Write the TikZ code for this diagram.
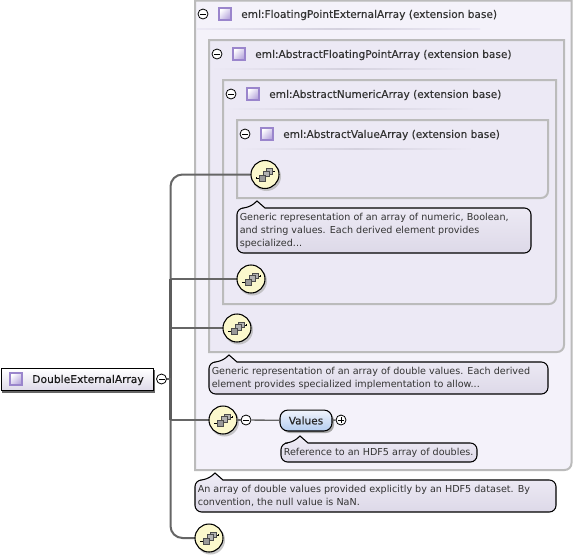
\documentclass[tikz,border=0pt]{standalone}
\usepackage{fontspec}
\setmainfont{DejaVu Sans}
\newfontfamily\headfont[FakeBold=0.2]{DejaVu Sans}
\usetikzlibrary{calc}
\definecolor{boxline}{HTML}{BBBBBB}
\definecolor{outerfill}{HTML}{F4F2FA}
\definecolor{innerfill}{HTML}{ECE9F5}
\definecolor{connline}{HTML}{666666}
\definecolor{txt}{HTML}{333333}
\definecolor{sep}{HTML}{D4D1DE}
\tikzset{
  x=0.75pt,y=-0.75pt,
  ctbox/.style={draw=boxline,line width=1.5pt,fill=#1},
  conn/.style={draw=connline,line width=1.5pt},
  notebody/.style={draw=black,line width=0.8pt,top color=notetop,bottom color=notebot},
  notetext/.style={anchor=north west,inner sep=0pt,align=left,text=txt,font=\fontsize{7.2pt}{9.75pt}\selectfont},
  headtext/.style={anchor=west,inner sep=0pt,text=black!80,font=\headfont\fontsize{7.92pt}{9.75pt}\selectfont},
  togglenode/.style={circle,draw=black,line width=0.6pt,fill=white,minimum size=7.5pt,inner sep=0pt},
  sqicon/.style={draw=iconline,line width=0.8pt,minimum size=9pt,inner sep=0pt,top color=white,bottom color=iconfill,shading angle=45},
  seqnode/.style={circle,draw=black,line width=0.8pt,fill=seqfill,minimum size=21pt,inner sep=0pt},
}
\definecolor{notetop}{HTML}{EFECF6}
\definecolor{notebot}{HTML}{DDD9E8}
\definecolor{iconline}{HTML}{9A85CC}
\definecolor{iconfill}{HTML}{B5A4DC}
\definecolor{seqfill}{HTML}{FBF8CC}
\definecolor{valbot}{HTML}{B4CDF0}
\definecolor{valtop}{HTML}{F0F4FC}
% container: x1,y1,x2,y2,fill
\newcommand{\ctbox}[5]{%
  \draw[ctbox=#5] (#1,#2) -- (#3,#2) -- (#3,#4-7) .. controls (#3,#4-3) and (#3-3,#4) .. (#3-7,#4) -- (#1,#4) -- cycle;}
% header: name,x,y,text,seprightx
\newcommand{\header}[5]{%
  \node[togglenode] (#1m) at (#2,#3) {\tikz[x=0.75pt,y=-0.75pt]\draw[line width=0.6pt] (-3,0)--(3,0);};
  \node[sqicon] (#1s) at (#2+22,#3) {};
  \node[headtext] (#1t) at (#2+38,#3+1) {#4};
  \shade[left color=innerfill,right color=innerfill,middle color=sep] (#2-6,#3+14.2) rectangle (#5,#3+15.8);}
% note: name,x1,y1,x2,y2,apexx,lines
\newcommand{\notebox}[7]{%
  \path[notebody,rounded corners=5pt]
    (#2,#3) -- (#6-8,#3) [sharp corners] -- (#6,#3-7) -- (#6+8,#3) [rounded corners=5pt]
    -- (#4,#3) -- (#4,#5) -- (#2,#5) -- cycle;
  \node[notetext] (#1) at (#2+2.5,#3+4.5) {#7};}
% sequence icon
\newcommand{\seqicon}[1]{%
  \begin{scope}[shift={(#1)}]
    \draw[black,line width=0.6pt] (-9,3.5)--(-5,3.5);
    \draw[black,line width=0.6pt] (5,-3)--(9.5,-3);
    \fill (-9.5,2.5) rectangle (-8,4.2);
    \fill (8.8,-3.8) rectangle (10.2,-2.2);
    \draw[black!70,line width=0.6pt,fill=black!30] (1,-6) rectangle (7,-0.5);
    \draw[black!70,line width=0.6pt,fill=black!30] (-2,-3.5) rectangle (4,2);
    \draw[black!70,line width=0.6pt,fill=black!40] (-5.5,0.5) rectangle (0.5,6.5);
  \end{scope}}
\newcommand{\seq}[3]{%
  \fill[black!30,opacity=.7] (#2+1.5,#3+2) circle (14.5);
  \node[seqnode] (#1) at (#2,#3) {};
  \seqicon{#1}}
\begin{document}
\begin{tikzpicture}
\useasboundingbox (0,0) rectangle (574,558);
\fill[white] (0,0) rectangle (574,558);
% containers
\ctbox{195}{0.5}{571.5}{470}{outerfill}
\ctbox{209}{40}{564}{352}{innerfill}
\ctbox{223}{80}{556}{304}{innerfill}
\ctbox{237}{120}{548}{198}{innerfill}
\header{ha}{203}{14}{eml:FloatingPointExternalArray (extension base)}{480}
\header{hb}{217}{54}{eml:AbstractFloatingPointArray (extension base)}{478}
\header{hc}{231}{94}{eml:AbstractNumericArray (extension base)}{475}
\header{hd}{245}{134}{eml:AbstractValueArray (extension base)}{473}
% root
\fill[black!60] (2,370) rectangle (155,393);
\node[draw=black,line width=1.1pt,minimum width=114pt,minimum height=16.5pt,inner sep=0pt,top color=white,bottom color=notebot,anchor=north west] (root) at (0.5,368) {};
\node[sqicon] (rooticon) at (16,379) {};
\node[headtext,text=black!90,font=\headfont\fontsize{8.05pt}{9.75pt}\selectfont] (roottext) at (32,380) {DoubleExternalArray};
\node[togglenode] (rootm) at (161.5,379) {\tikz[x=0.75pt,y=-0.75pt]\draw[line width=0.6pt] (-3,0)--(3,0);};
% sequence nodes
\coordinate (bus) at (170.5,379);
\path (265,174.5) coordinate (p1) (251,279) coordinate (p2) (237,328) coordinate (p3) (223,420) coordinate (p4) (209,538) coordinate (p5);
\draw[conn,rounded corners=9pt] (bus) |- (p1);
\draw[conn] (bus |- p2) -- (p2);
\draw[conn] (bus |- p3) -- (p3);
\draw[conn] (bus |- p4) -- (p4);
\draw[conn,rounded corners=9pt] (bus) |- (p5);
\draw[conn,line width=2pt,draw=connline!90!black] (bus |- p2) -- (bus |- p4);
\draw[conn,line width=0.8pt] (rootm) -- (bus);
\seq{s1}{265}{174.5}
\seq{s2}{251}{279}
\seq{s3}{237}{328}
\seq{s4}{223}{420}
\seq{s5}{209}{538}
% values
\node[togglenode] (vm) at (246,420) {\tikz[x=0.75pt,y=-0.75pt]\draw[line width=0.6pt] (-3,0)--(3,0);};
\fill[black!35,rounded corners=6pt] (282,412.5) rectangle (334,433);
\node[draw=black,line width=0.8pt,rounded corners=6pt,minimum width=39pt,minimum height=15.7pt,inner sep=0pt,top color=valtop,bottom color=valbot,text=black!85,font=\headfont\fontsize{7.9pt}{9.75pt}\selectfont] (values) at (306,420.5) {Values};
\node[togglenode] (vp) at (341,420) {\tikz[x=0.75pt,y=-0.75pt]{\draw[line width=0.6pt] (-3,0)--(3,0);\draw[line width=0.6pt] (0,-3)--(0,3);}};
\draw[conn,line width=1pt] (s4) -- (vm);
\draw[conn,line width=1pt] (vm) -- (values);
\draw[conn,line width=1pt] (values) -- (vp);
% notes
\notebox{n1}{237}{208}{531}{253}{257}{Generic representation of an array of numeric, Boolean,\\and string values. Each derived element provides\\specialized...}
\notebox{n2}{209}{362}{548}{394}{229}{Generic representation of an array of double values. Each derived\\element provides specialized implementation to allow...}
\notebox{n3}{281}{443}{477}{462}{300}{Reference to an HDF5 array of doubles.}
\notebox{n4}{195}{480}{556}{512}{215}{An array of double values provided explicitly by an HDF5 dataset. By\\convention, the null value is NaN.}
\end{tikzpicture}
\end{document}
